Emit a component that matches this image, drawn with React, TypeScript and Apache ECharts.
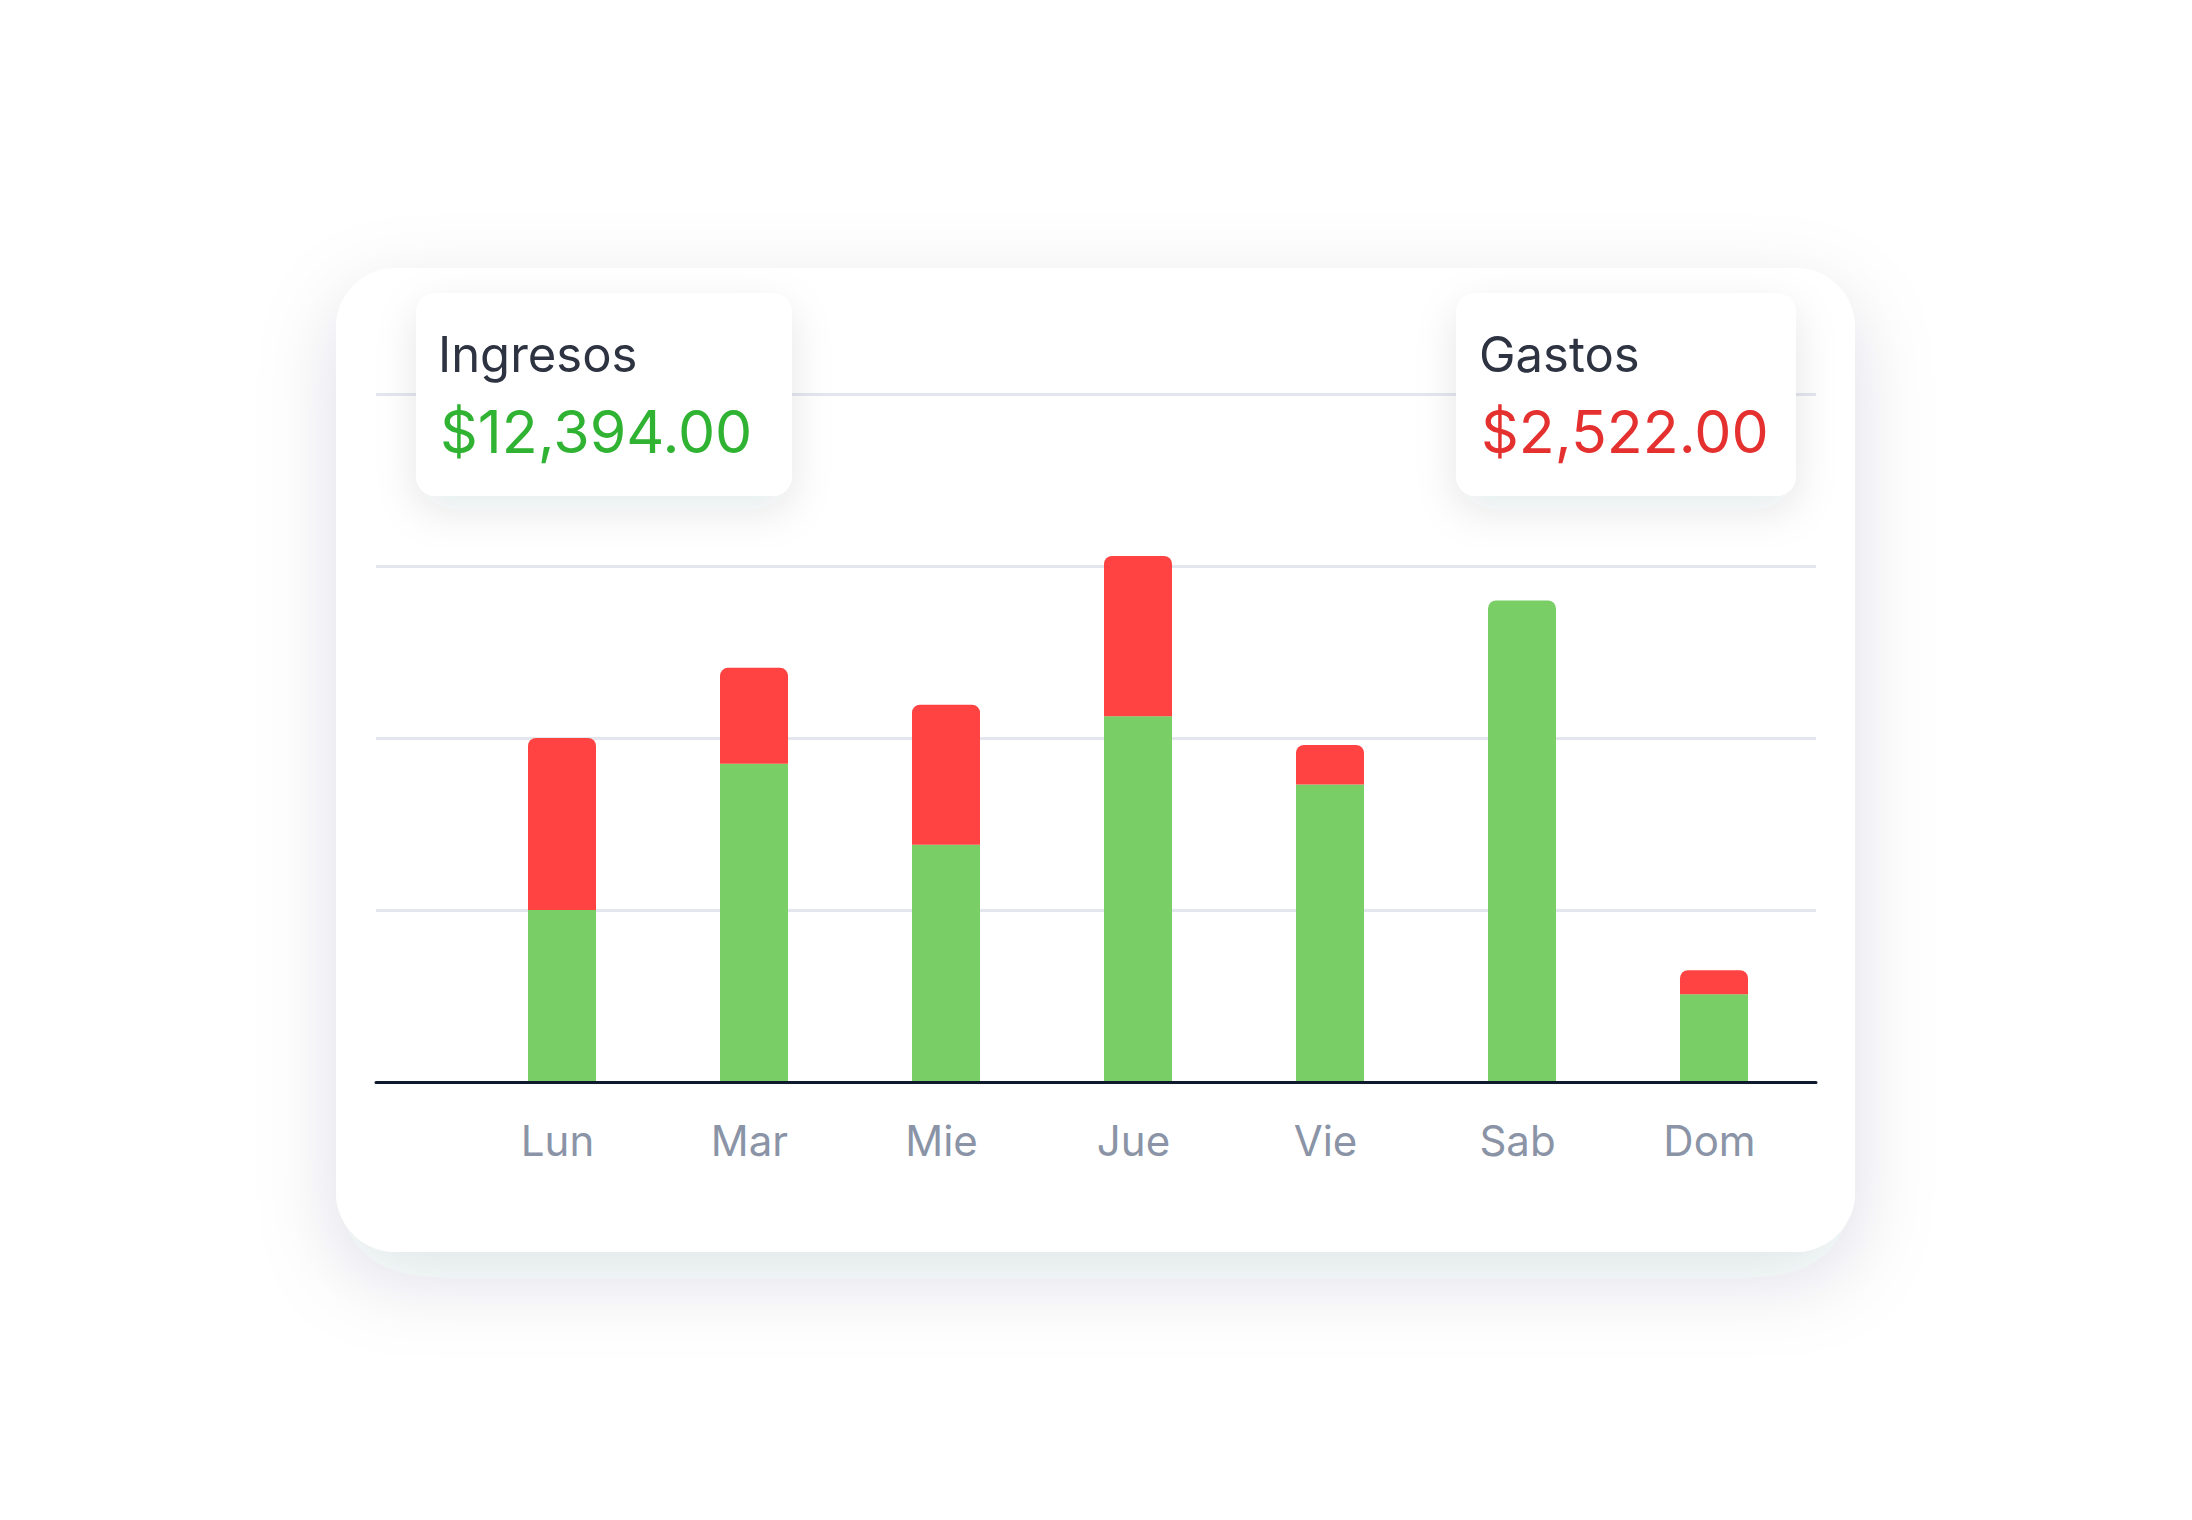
import React, { useEffect, useRef } from 'react'
import * as echarts from 'echarts'

// días de la semana
const days = ['Lun', 'Mar', 'Mie', 'Jue', 'Vie', 'Sab', 'Dom']

// valores
const ingresos = [500, 925, 690, 1063, 865, 1400, 255]
const gastos = [500, 279, 407, 466, 115, 0, 70]

// eje Y
const yMin = 0
const yMax = 2000
const yInterval = 500

// totales de las tarjetas
const totalIngresos = '$12,394.00'
const totalGastos = '$2,522.00'

const FONT = 'Inter, "Noto Sans", sans-serif'

const App: React.FC = () => {
  const chartRef = useRef<HTMLDivElement>(null)

  useEffect(() => {
    if (!chartRef.current) return
    const chart = echarts.init(chartRef.current, null, { renderer: 'svg' })

    const topRadius = [8, 8, 0, 0]

    // la barra verde lleva esquinas redondeadas solo si no hay gasto encima
    const greenData = ingresos.map((v, i) => ({
      value: v,
      itemStyle: { borderRadius: gastos[i] === 0 ? topRadius : 0 },
    }))
    const redData = gastos.map((v) => (v > 0 ? v : '-'))

    const option = {
      animation: false,
      backgroundColor: '#ffffff',
      grid: [
        // rejilla de fondo: líneas guía y eje
        { left: 376, right: 376, top: 394, bottom: 438, outerBoundsMode: 'none' },
        // rejilla de las barras
        { left: 466, right: 382, top: 394, bottom: 438, outerBoundsMode: 'none' },
      ],
      xAxis: [
        {
          gridIndex: 0,
          type: 'value',
          min: 0,
          max: 1,
          z: 5,
          axisLine: { show: true, lineStyle: { color: '#0F1B2D', width: 3 } },
          axisTick: { show: false },
          axisLabel: { show: false },
          splitLine: { show: false },
        },
        {
          gridIndex: 1,
          type: 'category',
          data: days,
          axisLine: { show: false },
          axisTick: { show: false },
          splitLine: { show: false },
          axisLabel: {
            color: '#8A94A6',
            fontSize: 42,
            fontWeight: 400,
            fontFamily: FONT,
            margin: 37,
            padding: [0, 9, 0, 0],
          },
        },
      ],
      yAxis: [
        {
          gridIndex: 0,
          type: 'value',
          min: yMin,
          max: yMax,
          interval: yInterval,
          axisLine: { show: false },
          axisTick: { show: false },
          axisLabel: { show: false },
          splitLine: { show: true, lineStyle: { color: '#E4E6EE', width: 3 } },
        },
        {
          gridIndex: 1,
          type: 'value',
          min: yMin,
          max: yMax,
          interval: yInterval,
          axisLine: { show: false },
          axisTick: { show: false },
          axisLabel: { show: false },
          splitLine: { show: false },
        },
      ],
      series: [
        {
          name: 'Ingresos',
          type: 'bar',
          xAxisIndex: 1,
          yAxisIndex: 1,
          stack: 'total',
          barWidth: 68,
          data: greenData,
          itemStyle: { color: '#79CE66' },
        },
        {
          name: 'Gastos',
          type: 'bar',
          xAxisIndex: 1,
          yAxisIndex: 1,
          stack: 'total',
          barWidth: 68,
          data: redData,
          itemStyle: { color: '#FF4343', borderRadius: topRadius },
        },
      ],
      graphic: [
        {
          type: 'rect',
          z: -10,
          shape: { x: 336, y: 268, width: 1519, height: 984, r: 60 },
          style: {
            fill: '#ffffff',
            shadowBlur: 80,
            shadowOffsetY: 26,
            shadowColor: 'rgba(30, 40, 60, 0.13)',
          },
        },
        {
          type: 'rect',
          z: 100,
          shape: { x: 416, y: 293, width: 376, height: 203, r: 20 },
          style: {
            fill: '#ffffff',
            shadowBlur: 40,
            shadowOffsetY: 14,
            shadowColor: 'rgba(30, 40, 60, 0.10)',
          },
        },
        {
          type: 'rect',
          z: 100,
          shape: { x: 1456, y: 293, width: 340, height: 203, r: 20 },
          style: {
            fill: '#ffffff',
            shadowBlur: 40,
            shadowOffsetY: 14,
            shadowColor: 'rgba(30, 40, 60, 0.10)',
          },
        },
        {
          type: 'text',
          z: 101,
          x: 438,
          y: 354,
          style: {
            text: 'Ingresos',
            fill: '#2D3340',
            font: `400 49px ${FONT}`,
            verticalAlign: 'middle',
          },
        },
        {
          type: 'text',
          z: 101,
          x: 440,
          y: 431,
          style: {
            text: totalIngresos,
            fill: '#30B232',
            font: `400 59px ${FONT}`,
            verticalAlign: 'middle',
          },
        },
        {
          type: 'text',
          z: 101,
          x: 1479,
          y: 354,
          style: {
            text: 'Gastos',
            fill: '#2D3340',
            font: `400 49px ${FONT}`,
            verticalAlign: 'middle',
          },
        },
        {
          type: 'text',
          z: 101,
          x: 1481,
          y: 431,
          style: {
            text: totalGastos,
            fill: '#E53030',
            font: `400 59px ${FONT}`,
            verticalAlign: 'middle',
          },
        },
      ],
    }

    chart.setOption(option)

    return () => {
      chart.dispose()
    }
  }, [])

  return (
    <div
      ref={chartRef}
      style={{
        position: 'absolute',
        left: 0,
        top: 0,
        width: 2192,
        height: 1520,
        background: '#ffffff',
      }}
    />
  )
}

export default App
